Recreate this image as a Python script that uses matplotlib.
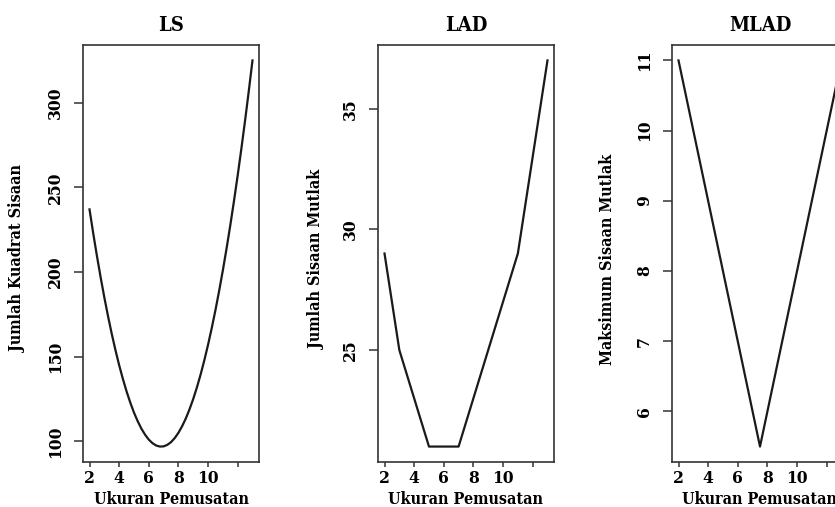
import matplotlib
matplotlib.use('Agg')
import matplotlib.pyplot as plt

# centre values (Ukuran Pemusatan) and the three criteria
c_ls = [2, 2.25, 2.5, 2.75, 3, 3.25, 3.5, 3.75, 4, 4.25, 4.5, 4.75, 5, 5.25,
        5.5, 5.75, 6, 6.25, 6.5, 6.75, 7, 7.25, 7.5, 7.75, 8, 8.25, 8.5, 8.75,
        9, 9.25, 9.5, 9.75, 10, 10.25, 10.5, 10.75, 11, 11.25, 11.5, 11.75,
        12, 12.25, 12.5, 12.75, 13]
ls = [237.0, 222.9, 209.5, 196.9, 185.0, 173.9, 163.5, 153.9, 145.0, 136.9,
      129.5, 122.9, 117.0, 111.9, 107.5, 103.9, 101.0, 98.9, 97.5, 96.9,
      97.0, 97.9, 99.5, 101.9, 105.0, 108.9, 113.5, 118.9, 125.0, 131.9,
      139.5, 147.9, 157.0, 166.9, 177.5, 188.9, 201.0, 213.9, 227.5, 241.9,
      257.0, 272.9, 289.5, 306.9, 325.0]

c_lad = [2, 3, 5, 7, 11, 13]
lad = [29, 25, 21, 21, 29, 37]

c_mlad = [2, 7.5, 13]
mlad = [11, 5.5, 11]

titles = ['LS', 'LAD', 'MLAD']
ylabels = ['Jumlah Kuadrat Sisaan', 'Jumlah Sisaan Mutlak', 'Maksimum Sisaan Mutlak']
xlabel = 'Ukuran Pemusatan'
xticks = [2, 4, 6, 8, 10, 12]
xticklabels = ['2', '4', '6', '8', '10', '']
yticks = [[100, 150, 200, 250, 300], [25, 30, 35], [6, 7, 8, 9, 10, 11]]

W, H = 835, 507
fig = plt.figure(figsize=(W / 100, H / 100), dpi=100)
fkw = dict(fontfamily='DejaVu Serif', fontweight='bold', fontstretch='condensed')

lefts = [83, 378, 672]
ylab_x = [18, 317, 607]
top, bottom, width = 45, 462, 176

data = [(c_ls, ls), (c_lad, lad), (c_mlad, mlad)]
for i in range(3):
    ax = fig.add_axes([lefts[i] / W, (H - bottom) / H, width / W, (bottom - top) / H])
    x, y = data[i]
    ax.plot(x, y, color='#1a1a1a', lw=1.6)
    ax.margins(x=0.04, y=0.04)
    ax.set_xticks(xticks)
    ax.set_xticklabels(xticklabels, fontsize=12.5, **fkw)
    ax.set_yticks(yticks[i])
    ax.set_yticklabels([str(v) for v in yticks[i]], fontsize=12.5, rotation=90,
                       va='center', **fkw)
    ax.tick_params(axis='x', length=3.6, width=1.1, pad=2.5, color='#333333')
    ax.tick_params(axis='y', length=6.5, width=1.1, pad=7, color='#333333')
    for s in ax.spines.values():
        s.set_linewidth(1.2)
        s.set_color('#333333')
    ax.set_title(titles[i], fontsize=14.5, pad=10, **fkw)
    cx = (lefts[i] + width / 2) / W
    fig.text(cx, 3 / H, xlabel, ha='center', va='baseline', fontsize=11.5, **fkw)
    fig.text(ylab_x[i] / W, 1 - 259 / H, ylabels[i], ha='center', va='center',
             rotation=90, fontsize=11.5, **fkw)

fig.savefig('out.png', dpi=100)
